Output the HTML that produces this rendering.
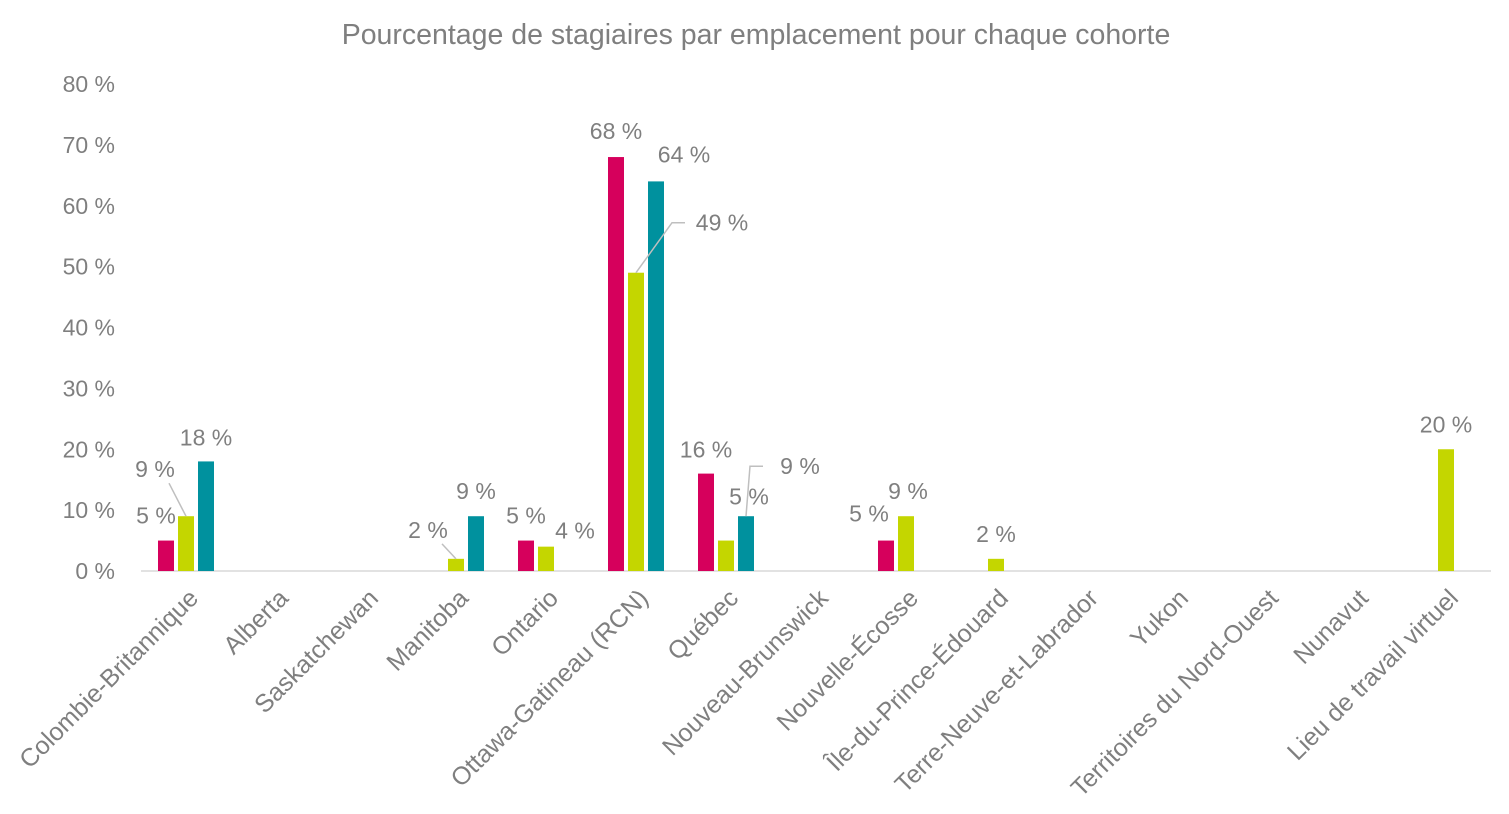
<!DOCTYPE html>
<html><head><meta charset="utf-8"><style>
body{margin:0;background:#fff;}
svg{display:block;font-family:"Segoe UI","Liberation Sans",sans-serif;}
</style></head><body>
<svg id="chart" width="1509" height="814" xmlns="http://www.w3.org/2000/svg">
<text x="756" y="44" text-anchor="middle" font-size="28.5" fill="#7f7f7f">Pourcentage de stagiaires par emplacement pour chaque cohorte</text>
<g id="grid"></g><g id="bars"></g><g id="labels"></g>
</svg>
<script>
const categories=["Colombie-Britannique","Alberta","Saskatchewan","Manitoba","Ontario","Ottawa-Gatineau (RCN)","Québec","Nouveau-Brunswick","Nouvelle-Écosse","Île-du-Prince-Édouard","Terre-Neuve-et-Labrador","Yukon","Territoires du Nord-Ouest","Nunavut","Lieu de travail virtuel"];
const series1=[5,null,null,null,5,68,16,null,5,null,null,null,null,null,null];
const series2=[9,null,null,2,4,49,5,null,9,2,null,null,null,null,20];
const series3=[18,null,null,9,null,64,9,null,null,null,null,null,null,null,null];
const yTicks=[0,10,20,30,40,50,60,70,80];
const seriesList=[series1,series2,series3];
const colors=["#d6005c","#c4d600","#00919e"];
// label placement offsets (style, not data): [dx,dy,leader]
const labelOffsets={"0-0":[-10,-25],"1-0":[-31,-47,1],"2-0":[0,-24],"1-3":[-28,-29,1],"2-3":[0,-25],"0-4":[0,-25],"1-4":[29,-16],"0-5":[0,-26],"1-5":[86,-50,1],"2-5":[28,-27],"0-6":[0,-24],"1-6":[23,-44],"2-6":[54,-50,1],"0-8":[-17,-27],"1-8":[2,-25]};
const NS="http://www.w3.org/2000/svg";
const x0=141,x1=1491,yBase=571,yTop=84;
const band=(x1-x0)/categories.length;
const xC=i=>x0+band*(i+0.5);
const yS=v=>yBase-(v/80)*(yBase-yTop);
function mk(t,a,p){const e=document.createElementNS(NS,t);for(const k in a)e.setAttribute(k,a[k]);p.appendChild(e);return e;}
const grid=document.getElementById('grid'),bars=document.getElementById('bars'),labels=document.getElementById('labels');
const axis=mk('line',{x1:x0,x2:x1,y1:yBase,y2:yBase,stroke:'#d9d9d9','stroke-width':1.5},grid);


yTicks.forEach(t=>{const e=mk('text',{x:115,y:yS(t)+8,'text-anchor':'end','font-size':23,fill:'#7f7f7f'},grid);e.textContent=t+' %';

});
categories.forEach((c,i)=>{const x=xC(i),y=594;const e=mk('text',{x:x+8,y:y+8,'text-anchor':'end','font-size':25,fill:'#7f7f7f',transform:`rotate(-45 ${x+8} ${y})`},grid);e.textContent=c;

});
seriesList.forEach((s,si)=>{s.forEach((v,i)=>{if(v==null)return;const cx=xC(i)+(si-1)*20;
const r=mk('rect',{x:cx-8,y:yS(v),width:16,height:yBase-yS(v),fill:colors[si]},bars);


const o=labelOffsets[si+'-'+i]||[0,-25];const lx=cx+o[0],ly=yS(v)+o[1];
if(o[2]){let pts;
if(o[0]>0){pts=`${cx},${yS(v)} ${lx-50},${ly} ${lx-37},${ly}`;}
else{pts=`${cx},${yS(v)} ${lx+14},${ly+14}`;}
const l=mk('polyline',{points:pts,fill:'none',stroke:'#bfbfbf','stroke-width':1.5},labels);

}
const t=mk('text',{x:lx,y:ly+8,'text-anchor':'middle','font-size':23,fill:'#7f7f7f'},labels);t.textContent=v+' %';

});});
</script>
</body></html>
